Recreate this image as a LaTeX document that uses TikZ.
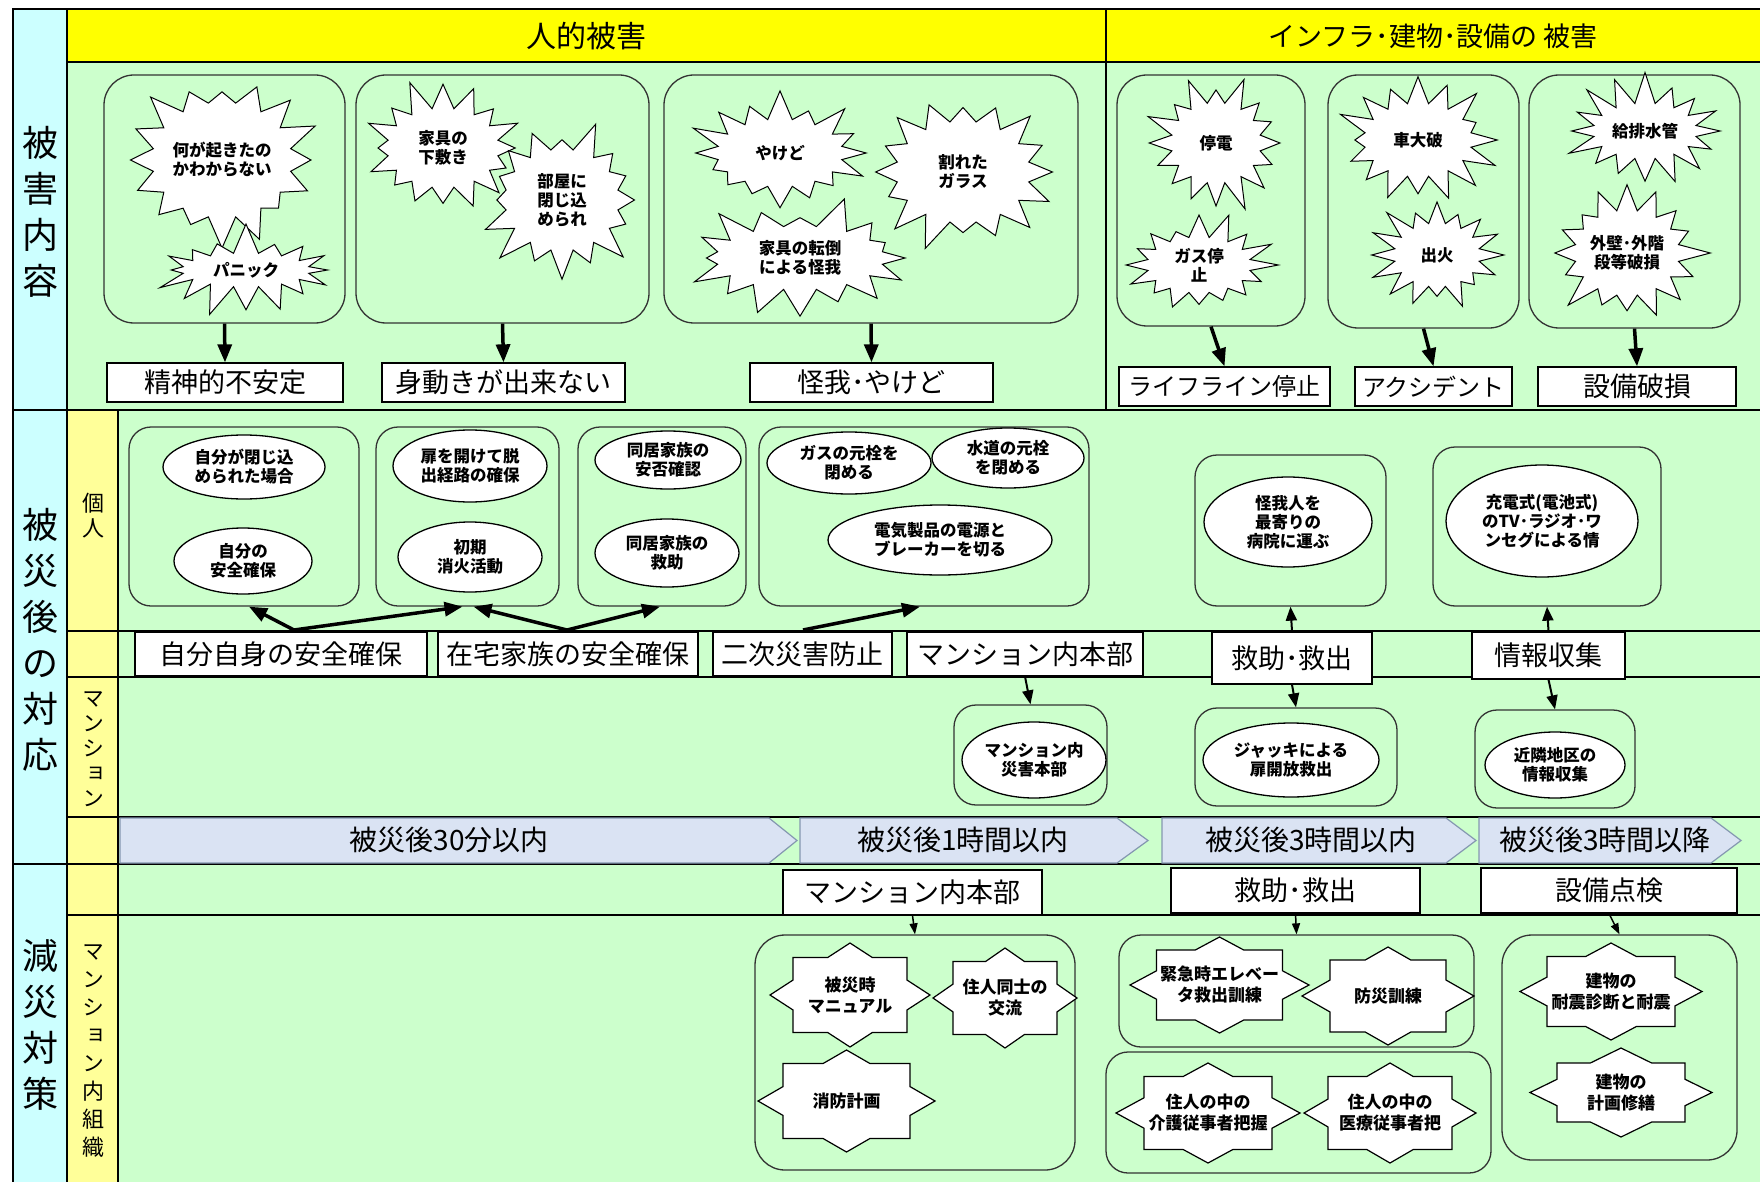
\documentclass[tikz,border=0pt]{standalone}
\usepackage{fontspec}
\setmainfont{Noto Sans CJK JP}
\newfontfamily\vjp[RawFeature=+vert]{Noto Sans CJK JP}
\usetikzlibrary{shapes.symbols,shapes.geometric,arrows.meta,calc,fit}
\definecolor{grn}{HTML}{CCFFCC}
\definecolor{cyn}{HTML}{CCFFFF}
\definecolor{ylw}{HTML}{FFFF00}
\definecolor{pyl}{HTML}{FFFF99}
\definecolor{tbl}{HTML}{DAE3F3}
\definecolor{tbd}{HTML}{8497B0}
\newcommand\fs[2]{\fontsize{#1}{#2}\selectfont}
\newcommand\ostar[8]{%
  \draw[starbox, shift={(#2,#3)}] (0,-#5) -- ({#4*(1-#7/#5)},-#7) -- (#6,-#7) -- (#6,{-#5*(1-#6/#4)}) -- (#4,0)
   -- (#6,{#5*(1-#6/#4)}) -- (#6,#7) -- ({#4*(1-#7/#5)},#7) -- (0,#5) -- ({-#4*(1-#7/#5)},#7) -- (-#6,#7)
   -- (-#6,{#5*(1-#6/#4)}) -- (-#4,0) -- (-#6,{-#5*(1-#6/#4)}) -- (-#6,-#7) -- ({-#4*(1-#7/#5)},-#7) -- cycle;
  \node[startext] (#1) at (#2,#3) {#8};}
\begin{document}
\begin{tikzpicture}[x=1pt,y=-1pt,
  grpbox/.style={draw=black!80, line width=1.3pt, rounded corners=30pt, inner sep=0pt},
  grpboxs/.style={draw=black!80, line width=1.3pt, rounded corners=22pt, inner sep=0pt},
  lbl/.style={draw=black, fill=white, line width=1.3pt, inner sep=0pt, font=\fs{27}{30}},
  burst/.style={starburst, draw=black, fill=white, line width=1pt, inner sep=0pt, starburst points=16, starburst point height=32pt, align=center, font=\fs{16.5}{19}\bfseries},
  ell/.style={ellipse, draw=black, fill=white, line width=1.3pt, inner sep=0pt, align=center, font=\fs{16.5}{19}\bfseries},
  starbox/.style={draw=black, fill=white, line width=1.2pt, line join=miter},
  startext/.style={inner sep=0pt, align=center, font=\fs{17}{21}\bfseries},
  bigarr/.style={line width=3.5pt, -{Triangle[length=18pt,width=14pt]}},
  midarr/.style={line width=2pt, -{Triangle[length=14pt,width=11pt]}},
  smarr/.style={line width=1.5pt, -{Triangle[length=11pt,width=8pt]}},
  tarr/.style={draw=tbd, fill=tbl, line width=1.2pt},
  ttext/.style={font=\fs{28}{30}, inner sep=0pt},
  vlab/.style={align=center, inner sep=0pt},
]
\fill[white] (0,0) rectangle (1760,1182);
\useasboundingbox (0,0) rectangle (1760,1182);
% background regions
\fill[cyn] (13,9) rectangle (67,1182);
\fill[ylw] (67,9) rectangle (1760,62);
\fill[grn] (67,62) rectangle (1760,410);
\fill[pyl] (67,410) rectangle (118,1182);
\fill[grn] (118,410) rectangle (1760,1182);
% grid lines
\draw[line width=1.5pt] (1760,9) -- (13,9) -- (13,1182);
\draw[line width=2pt] (67,9) -- (67,1182);
\draw[line width=1.5pt] (67,62) -- (1760,62);
\draw[line width=1.5pt] (1106,9) -- (1106,410);
\draw[line width=2.5pt] (13,410) -- (1760,410);
\draw[line width=2.5pt] (13,864) -- (1760,864);
\draw[line width=1.5pt] (118,410) -- (118,1182);
\draw[line width=1.2pt] (67,631) -- (1760,631) (67,677) -- (1760,677) (67,817) -- (1760,817) (67,915) -- (1760,915);
% headers
\node[font=\fs{30}{32}] (h1) at (586,36) {人的被害};
\node[font=\fs{27}{30}] (h2) at (1433,36) {インフラ･建物･設備の 被害};
% left labels
\node[vlab, font=\fs{36}{46}] (c1) at (40,212) {被\\害\\内\\容};
\node[vlab, font=\fs{36}{46}] (c2) at (40,640) {被\\災\\後\\の\\対\\応};
\node[vlab, font=\fs{36}{46}] (c3) at (40,1025) {減\\災\\対\\策};
\node[vlab, font=\fs{22}{25}] (d1) at (93,516) {個\\人};
\node[vlab, font=\vjp\fs{22}{25}] (d2) at (93,749) {マ\\ン\\シ\\ョ\\ン};
\node[vlab, font=\vjp\fs{22}{28}] (d3) at (93,1051) {マ\\ン\\シ\\ョ\\ン\\内\\組\\織};
% ---------- section 1
\node (g1) [grpbox, fit={(104,75) (345,323)}] {};
\node (g2) [grpbox, fit={(356,75) (649,323)}] {};
\node (g3) [grpbox, fit={(664,75) (1078,323)}] {};
\node (g4) [grpbox, fit={(1117,75) (1305,326)}] {};
\node (g5) [grpbox, fit={(1328,75) (1519,328)}] {};
\node (g6) [grpbox, fit={(1529,75) (1740,328)}] {};
\node (b1) [burst, minimum width=200pt, minimum height=180pt, random starburst=3] at (222,160) {何が起きたの\\かわからない};
\node (b2) [burst, minimum width=192pt, minimum height=98pt, random starburst=7] at (246,270) {パニック};
\node (b3) [burst, minimum width=176pt, minimum height=144pt, random starburst=11] at (443,148) {家具の\\下敷き};
\node (b4) [burst, minimum width=178pt, minimum height=166pt, random starburst=13] at (562,200) {部屋に\\閉じ込\\められ};
\node (b5) [burst, minimum width=190pt, minimum height=132pt, random starburst=17] at (780,153) {やけど};
\node (b6) [burst, minimum width=198pt, minimum height=166pt, random starburst=19] at (963,172) {割れた\\ガラス};
\node (b7) [burst, minimum width=232pt, minimum height=128pt, random starburst=23] at (800,258) {家具の転倒\\による怪我};
\node (b8) [burst, minimum width=154pt, minimum height=145pt, random starburst=29] at (1216,143) {停電};
\node (b9) [burst, minimum width=168pt, minimum height=120pt, random starburst=31] at (1199,265) {ガス停\\止};
\node (b10) [burst, minimum width=172pt, minimum height=138pt, random starburst=37] at (1418,140) {車大破};
\node (b11) [burst, minimum width=150pt, minimum height=128pt, random starburst=41] at (1437,255) {出火};
\node (b12) [burst, minimum width=168pt, minimum height=120pt, random starburst=43] at (1645,131) {給排水管};
\node (b13) [burst, minimum width=162pt, minimum height=150pt, random starburst=47] at (1627,253) {外壁･外階\\段等破損};
\node (l1) [lbl, minimum width=236pt, minimum height=39pt] at (225,382.5) {精神的不安定};
\node (l2) [lbl, minimum width=243pt, minimum height=39pt] at (503.5,382.5) {身動きが出来ない};
\node (l3) [lbl, minimum width=243pt, minimum height=39pt] at (871.5,382.5) {怪我･やけど};
\node (l4) [lbl, font=\fs{24}{28}, minimum width=211pt, minimum height=39pt] at (1224.5,386.5) {ライフライン停止};
\node (l5) [lbl, font=\fs{24}{28}, minimum width=157pt, minimum height=39pt] at (1433.5,386.5) {アクシデント};
\node (l6) [lbl, minimum width=198pt, minimum height=39pt] at (1637,386.5) {設備破損};
\draw[bigarr] (g1.south) -- (l1.north);
\draw[bigarr] (g2.south) -- (l2.north);
\draw[bigarr] (g3.south) -- (l3.north);
\draw[bigarr] (g4.south) -- (l4.north);
\draw[bigarr] (g5.south) -- (l5.north);
\draw[bigarr] (g6.south) -- (l6.north);
% ---------- section 2
\node (a1) [grpboxs, fit={(129,427) (359,606)}] {};
\node (a2) [grpboxs, fit={(376,427) (559,606)}] {};
\node (a3) [grpboxs, fit={(578,427) (746,606)}] {};
\node (a4) [grpboxs, fit={(759,427) (1089,606)}] {};
\node (a5) [grpboxs, fit={(1195,455) (1386,606)}] {};
\node (a6) [grpboxs, fit={(1433,447) (1661,606)}] {};
\node (e1) [ell, minimum width=162pt, minimum height=64pt] at (244,467) {自分が閉じ込\\められた場合};
\node (e2) [ell, minimum width=138pt, minimum height=66pt] at (243,561) {自分の\\安全確保};
\node (e3) [ell, minimum width=154pt, minimum height=72pt] at (470,466) {扉を開けて脱\\出経路の確保};
\node (e4) [ell, minimum width=144pt, minimum height=70pt] at (470,557) {初期\\消火活動};
\node (e5) [ell, minimum width=146pt, minimum height=58pt] at (668,460) {同居家族の\\安否確認};
\node (e6) [ell, minimum width=144pt, minimum height=68pt] at (667,553) {同居家族の\\救助};
\node (e7) [ell, minimum width=164pt, minimum height=62pt] at (849,463) {ガスの元栓を\\閉める};
\node (e8) [ell, minimum width=152pt, minimum height=60pt] at (1008,458) {水道の元栓\\を閉める};
\node (e9) [ell, minimum width=224pt, minimum height=70pt] at (940,540) {電気製品の電源と\\ブレーカーを切る};
\node (e10) [ell, minimum width=168pt, minimum height=90pt] at (1288,522) {怪我人を\\最寄りの\\病院に運ぶ};
\node (e11) [ell, minimum width=192pt, minimum height=112pt] at (1542,521) {充電式(電池式)\\のTV･ラジオ･ワ\\ンセグによる情};
\node (m1) [grpboxs, fit={(954,705) (1107,805)}] {};
\node (m2) [grpboxs, fit={(1195,708) (1397,806)}] {};
\node (m3) [grpboxs, fit={(1475,710) (1635,808)}] {};
\node (e12) [ell, minimum width=144pt, minimum height=76pt] at (1034,760) {マンション内\\災害本部};
\node (e13) [ell, minimum width=176pt, minimum height=74pt] at (1291,760) {ジャッキによる\\扉開放救出};
\node (e14) [ell, minimum width=140pt, minimum height=66pt] at (1555,765) {近隣地区の\\情報収集};
\node (k1) [lbl, minimum width=292pt, minimum height=44pt] at (281,654) {自分自身の安全確保};
\node (k2) [lbl, minimum width=260pt, minimum height=44pt] at (568,654) {在宅家族の安全確保};
\node (k3) [lbl, minimum width=179pt, minimum height=44pt] at (802.5,654) {二次災害防止};
\node (k4) [lbl, minimum width=236pt, minimum height=44pt] at (1025,654) {マンション内本部};
\node (k5) [lbl, minimum width=160pt, minimum height=52pt] at (1292,658) {救助･救出};
\node (k6) [lbl, minimum width=153pt, minimum height=47pt] at (1548.5,655.5) {情報収集};
\coordinate (s1) at (294,630);
\coordinate (s2) at (567,630);
\coordinate (s3) at (803,630);
\draw[bigarr] (s1) -- ([xshift=5pt]a1.south);
\draw[bigarr] (s1) -- ([xshift=-5pt]a2.south);
\draw[bigarr] (s2) -- ([xshift=6pt]a2.south);
\draw[bigarr] (s2) -- ([xshift=-2pt]a3.south);
\draw[bigarr] (s3) -- ([xshift=-4pt]a4.south);
\draw[midarr] (k5.north) -- (a5.south);
\draw[midarr] (k5.south) -- (m2.north);
\draw[midarr] (k6.north) -- (a6.south);
\draw[midarr] (k6.south) -- (m3.north);
\draw[midarr] (k4.south) -- (m1.north);
% time arrows
\draw[tarr] (120,818) -- (769,818) -- (797,840.5) -- (769,863) -- (120,863) -- cycle;
\draw[tarr] (800,818) -- (1117,818) -- (1148,840.5) -- (1117,863) -- (800,863) -- cycle;
\draw[tarr] (1162,818) -- (1446,818) -- (1476,840.5) -- (1446,863) -- (1162,863) -- cycle;
\draw[tarr] (1479,818) -- (1711,818) -- (1741,840.5) -- (1711,863) -- (1479,863) -- cycle;
\node[ttext] (t1) at (449,840) {被災後30分以内};
\node[ttext] (t2) at (963,840) {被災後1時間以内};
\node[ttext] (t3) at (1311,840) {被災後3時間以内};
\node[ttext] (t4) at (1605,840) {被災後3時間以降};
% ---------- section 3
\node (n1) [lbl, minimum width=259pt, minimum height=45pt] at (912.5,892.5) {マンション内本部};
\node (n2) [lbl, minimum width=249pt, minimum height=45pt] at (1295.5,890.5) {救助･救出};
\node (n3) [lbl, minimum width=256pt, minimum height=45pt] at (1609,890.5) {設備点検};
\node (q1) [grpbox, fit={(755,935) (1075,1170)}] {};
\node (q2) [grpboxs, fit={(1119,935) (1474,1047)}] {};
\node (q3) [grpboxs, fit={(1106,1052) (1491,1173)}] {};
\node (q4) [grpbox, fit={(1502,935) (1737,1160)}] {};
\draw[smarr] (n1.south) -- (q1.north);
\draw[smarr] (n2.south) -- (q2.north);
\draw[smarr] (n3.south) -- (q4.north);
\ostar{p1}{850}{995}{80}{52}{57}{37.5}{被災時\\マニュアル}
\ostar{p2}{1005}{998}{72}{50}{52}{36.5}{住人同士の\\交流}
\ostar{p3}{846.5}{1101}{88.5}{51}{63.5}{37.5}{消防計画}
\ostar{p4}{1219.5}{985}{89.5}{48}{63}{35}{緊急時エレベー\\タ救出訓練}
\ostar{p5}{1388}{996}{86}{49}{58}{36}{防災訓練}
\ostar{p6}{1208}{1113}{92}{50}{64}{36.5}{住人の中の\\介護従事者把握}
\ostar{p7}{1390}{1113}{86}{50}{62}{36.5}{住人の中の\\医療従事者把}
\ostar{p8}{1611}{991.5}{91}{48.5}{64}{35}{建物の\\耐震診断と耐震}
\ostar{p9}{1621}{1092.5}{91}{44.5}{64}{29.5}{建物の\\計画修繕}
\end{tikzpicture}
\end{document}
